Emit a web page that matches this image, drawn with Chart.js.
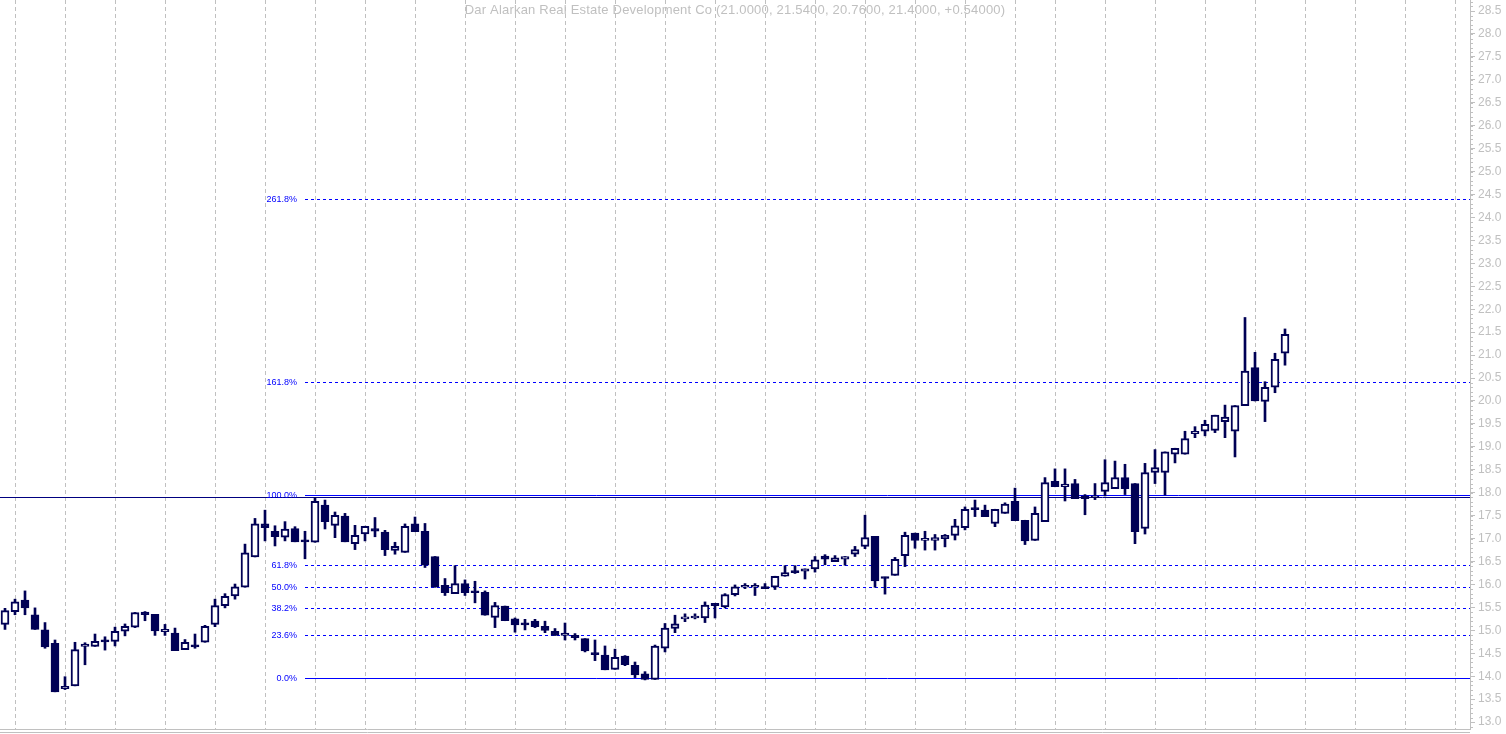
<!DOCTYPE html>
<html lang="en">
<head>
<meta charset="UTF-8">
<title>Dar Alarkan Real Estate Development Co</title>
<script src="https://cdn.jsdelivr.net/npm/chart.js"></script>
<style>
  body { margin: 0; background: #fff; }
  #wrap { width: 1506px; height: 734px; }
</style>
</head>
<body>
<div id="wrap"><canvas id="chart"></canvas></div>
<script>
// daily candles
const opens = [
  15.13, 15.41, 15.66, 15.34, 15.01, 14.72, 13.73, 13.79, 14.65, 14.65,
  14.78, 14.76, 14.98, 15.07, 15.40, 15.35, 14.97, 14.94, 14.58, 14.67,
  14.74, 15.13, 15.54, 15.75, 15.94, 16.60, 17.32, 17.16, 17.03, 17.22,
  16.94, 16.92, 17.73, 17.29, 17.49, 16.89, 17.10, 17.22, 17.14, 16.74,
  16.70, 17.32, 17.16, 16.61, 15.98, 15.80, 16.02, 15.86, 15.83, 15.28,
  15.53, 15.25, 15.14, 15.20, 15.09, 14.98, 14.89, 14.89, 14.82, 14.49,
  14.46, 14.15, 14.44, 14.24, 14.05, 13.93, 14.61, 15.04, 15.25, 15.27,
  15.27, 15.59, 15.51, 15.78, 15.94, 15.94, 15.94, 15.94, 16.18, 16.29,
  16.29, 16.34, 16.62, 16.50, 16.55, 16.66, 16.83, 17.05, 16.16, 16.20,
  16.63, 17.12, 16.96, 16.96, 17.00, 17.07, 17.24, 17.66, 17.62, 17.33,
  17.55, 17.81, 17.40, 16.96, 17.37, 18.25, 18.13, 18.20, 17.93, 17.89,
  18.03, 18.09, 18.33, 18.20, 17.22, 18.44, 18.44, 18.84, 18.84, 19.29,
  19.34, 19.36, 19.55, 19.34, 19.90, 20.73, 19.99, 20.30, 21.04
];
const highs = [
  15.48, 15.68, 15.86, 15.49, 15.17, 14.79, 13.99, 14.74, 14.73, 14.92,
  14.86, 15.07, 15.14, 15.39, 15.41, 15.35, 15.13, 15.05, 14.80, 14.92,
  15.11, 15.68, 15.80, 16.01, 16.88, 17.44, 17.62, 17.28, 17.37, 17.26,
  17.16, 17.90, 17.84, 17.58, 17.55, 17.29, 17.27, 17.46, 17.18, 16.92,
  17.32, 17.47, 17.33, 16.61, 16.13, 16.41, 16.10, 16.07, 15.86, 15.61,
  15.53, 15.27, 15.24, 15.24, 15.20, 15.04, 15.16, 14.93, 14.82, 14.79,
  14.66, 14.59, 14.45, 14.31, 14.10, 14.68, 15.15, 15.33, 15.36, 15.36,
  15.62, 15.59, 15.80, 15.99, 16.02, 16.02, 16.02, 16.18, 16.41, 16.41,
  16.34, 16.61, 16.65, 16.63, 16.61, 16.83, 17.51, 17.05, 16.16, 16.59,
  17.14, 17.12, 17.16, 17.09, 17.09, 17.42, 17.69, 17.84, 17.73, 17.64,
  17.78, 18.10, 17.40, 17.69, 18.33, 18.52, 18.52, 18.29, 17.96, 18.20,
  18.72, 18.69, 18.62, 18.20, 18.64, 18.94, 18.89, 18.97, 19.34, 19.44,
  19.58, 19.69, 19.91, 19.90, 21.82, 21.06, 20.42, 21.04, 21.57
];
const lows = [
  15.02, 15.34, 15.34, 15.02, 14.61, 13.66, 13.71, 13.79, 14.25, 14.65,
  14.57, 14.66, 14.88, 15.06, 15.21, 14.89, 14.89, 14.56, 14.58, 14.61,
  14.74, 15.08, 15.49, 15.68, 15.94, 16.60, 16.95, 16.84, 16.95, 16.93,
  16.56, 16.92, 17.21, 17.02, 16.93, 16.76, 16.95, 17.04, 16.63, 16.66,
  16.70, 17.15, 16.37, 15.94, 15.76, 15.80, 15.76, 15.60, 15.33, 15.06,
  15.21, 14.96, 15.01, 15.06, 14.95, 14.89, 14.79, 14.79, 14.53, 14.34,
  14.14, 14.15, 14.23, 13.97, 13.92, 13.93, 14.53, 14.95, 15.19, 15.25,
  15.17, 15.27, 15.49, 15.75, 15.91, 15.76, 15.91, 15.89, 16.18, 16.24,
  16.12, 16.27, 16.43, 16.50, 16.42, 16.61, 16.78, 15.94, 15.79, 16.20,
  16.39, 16.79, 16.75, 16.75, 16.82, 16.97, 17.19, 17.48, 17.48, 17.26,
  17.55, 17.39, 16.87, 16.96, 17.37, 18.13, 17.82, 17.87, 17.52, 17.85,
  17.93, 18.09, 17.96, 16.89, 17.10, 18.20, 17.95, 18.65, 18.84, 19.20,
  19.24, 19.31, 19.20, 18.78, 19.90, 20.00, 19.55, 20.18, 20.78
];
const closes = [
  15.43, 15.62, 15.49, 15.02, 14.64, 13.66, 13.78, 14.58, 14.70, 14.76,
  14.75, 14.98, 15.09, 15.39, 15.34, 14.99, 15.02, 14.56, 14.74, 14.64,
  15.09, 15.54, 15.74, 15.95, 16.69, 17.32, 17.24, 17.04, 17.21, 16.93,
  16.93, 17.81, 17.37, 17.51, 16.93, 17.07, 17.27, 17.16, 16.76, 16.83,
  17.27, 17.15, 16.42, 15.94, 15.82, 16.02, 15.82, 15.82, 15.33, 15.54,
  15.21, 15.12, 15.12, 15.08, 15.00, 14.89, 14.94, 14.84, 14.55, 14.47,
  14.14, 14.41, 14.25, 14.03, 13.93, 14.66, 15.05, 15.14, 15.29, 15.29,
  15.55, 15.54, 15.78, 15.95, 15.97, 15.95, 15.91, 16.18, 16.26, 16.26,
  16.34, 16.54, 16.55, 16.58, 16.61, 16.76, 17.02, 16.08, 16.13, 16.55,
  17.07, 16.96, 16.97, 17.02, 17.07, 17.28, 17.64, 17.63, 17.48, 17.64,
  17.75, 17.39, 16.95, 17.55, 18.22, 18.13, 18.19, 17.87, 17.87, 17.90,
  18.22, 18.33, 18.09, 17.15, 18.44, 18.55, 18.89, 18.97, 19.18, 19.34,
  19.49, 19.69, 19.65, 19.90, 20.65, 20.00, 20.30, 20.91, 21.45
];

// week separators (candle index) and price axis labels
const gridIdx = [1, 6, 11, 16, 21, 26, 31, 36, 41, 46, 51, 56, 61, 66, 71, 76, 81, 86, 91, 96, 101,
                 105, 110, 115, 120, 125, 130, 135, 140, 145];
const yTicks = [13.0, 13.5, 14.0, 14.5, 15.0, 15.5, 16.0, 16.5, 17.0, 17.5, 18.0, 18.5, 19.0, 19.5, 20.0,
                20.5, 21.0, 21.5, 22.0, 22.5, 23.0, 23.5, 24.0, 24.5, 25.0, 25.5, 26.0, 26.5, 27.0, 27.5, 28.0, 28.5];

// fibonacci retracement
const fibPct = [0, 23.6, 38.2, 50, 61.8, 100, 161.8, 261.8];
const fibLow = 13.96;
const fibHigh = 17.95;
const fibStart = 30;
const hLine = 17.90;

const titleText = 'Dar Alarkan Real Estate Development Co (21.0000, 21.5400, 20.7600, 21.4000, +0.54000)';

const navy = '#000055';
const grey = '#c0c0c0';
const fibBlue = '#0000ff';

const bodies = opens.map((o, i) => ({ x: i, y: [o, closes[i]] }));
const wicks = lows.map((l, i) => ({ x: i, y: [l, highs[i]] }));

const overlay = {
    id: 'overlay',
    beforeDatasetsDraw(chart) {
        const { ctx, chartArea: a, scales: { x, y } } = chart;
        ctx.save();

        // dashed vertical grid
        ctx.strokeStyle = grey;
        ctx.lineWidth = 1;
        ctx.setLineDash([4, 3]);
        gridIdx.forEach(i => {
            const px = Math.round(x.getPixelForValue(i)) + 0.5;
            ctx.beginPath();
            ctx.moveTo(px, a.top);
            ctx.lineTo(px, a.bottom);
            ctx.stroke();
        });

        // title
        ctx.setLineDash([]);
        ctx.fillStyle = grey;
        ctx.font = '13px "Liberation Sans", Arial, sans-serif';
        ctx.letterSpacing = '0.2px';
        ctx.textAlign = 'center';
        ctx.textBaseline = 'middle';
        ctx.fillText(titleText, (a.left + a.right) / 2, 10);
        ctx.letterSpacing = '0px';

        // full width line
        let py = Math.round(y.getPixelForValue(hLine)) + 0.5;
        ctx.strokeStyle = '#000080';
        ctx.beginPath();
        ctx.moveTo(a.left, py);
        ctx.lineTo(a.right, py);
        ctx.stroke();

        // fib levels
        const x0 = x.getPixelForValue(fibStart);
        ctx.font = '9px "Liberation Sans", Arial, sans-serif';
        ctx.textAlign = 'right';
        fibPct.forEach(p => {
            const v = fibLow + (fibHigh - fibLow) * p / 100;
            py = Math.round(y.getPixelForValue(v)) + 0.5;
            ctx.strokeStyle = fibBlue;
            ctx.setLineDash(p === 0 || p === 100 ? [] : [3, 3]);
            ctx.beginPath();
            ctx.moveTo(x0, py);
            ctx.lineTo(a.right, py);
            ctx.stroke();
            ctx.fillStyle = fibBlue;
            ctx.fillText(p.toFixed(1) + '%', x0 - 8, py);
        });
        ctx.restore();
    },
    afterDraw(chart) {
        const { ctx, chartArea: a, scales: { y } } = chart;
        ctx.save();
        ctx.strokeStyle = grey;
        ctx.lineWidth = 1;
        // minor ticks on the price axis
        for (let v = 12.9; v < y.max; v += 0.1) {
            const py = Math.round(y.getPixelForValue(v)) + 0.5;
            ctx.beginPath();
            ctx.moveTo(a.right, py);
            ctx.lineTo(a.right + 3, py);
            ctx.stroke();
        }
        // double line at the bottom
        [a.bottom + 0.5, a.bottom + 3.5].forEach(py => {
            ctx.beginPath();
            ctx.moveTo(a.left, py);
            ctx.lineTo(a.right, py);
            ctx.stroke();
        });
        ctx.restore();
    }
};

new Chart(document.getElementById('chart'), {
    type: 'bar',
    data: {
        datasets: [{
            label: 'body',
            data: bodies,
            order: 0,
            grouped: false,
            barThickness: 8,
            minBarLength: 2,
            borderWidth: 2,
            borderSkipped: false,
            borderColor: navy,
            backgroundColor: c => closes[c.dataIndex] >= opens[c.dataIndex] ? '#ffffff' : navy
        }, {
            label: 'wick',
            data: wicks,
            order: 1,
            grouped: false,
            barThickness: 2,
            borderWidth: 0,
            backgroundColor: navy
        }]
    },
    plugins: [overlay],
    options: {
        responsive: true,
        maintainAspectRatio: false,
        animation: false,
        layout: { autoPadding: false, padding: { left: 0, right: 0, top: 0, bottom: 5 } },
        plugins: {
            legend: { display: false },
            tooltip: { enabled: false }
        },
        scales: {
            x: {
                type: 'linear',
                min: -0.5,
                max: 146.5,
                offset: false,
                display: false
            },
            y: {
                position: 'right',
                min: 12.85,
                max: 28.74,
                afterBuildTicks: s => { s.ticks = yTicks.map(v => ({ value: v })); },
                afterFit: s => { s.width = 36; s.paddingTop = 0; s.paddingBottom = 0; },
                ticks: {
                    color: grey,
                    font: { family: '"Liberation Sans", Arial, sans-serif', size: 12 },
                    padding: 3,
                    callback: v => Number(v).toFixed(1)
                },
                grid: {
                    drawOnChartArea: false,
                    tickLength: 5,
                    tickColor: grey
                },
                border: { color: grey }
            }
        }
    }
});
</script>
</body>
</html>
